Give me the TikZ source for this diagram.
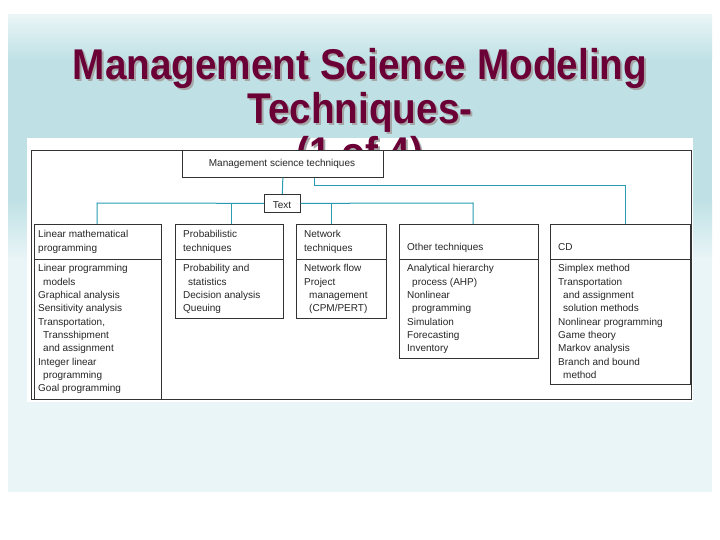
\documentclass[tikz,border=0pt]{standalone}
\usepackage{fontspec}
\usepackage{graphicx}
\setmainfont{Liberation Sans}
\definecolor{bgc}{HTML}{BFE1E5}
\definecolor{bgl}{HTML}{EAF5F7}
\definecolor{ttl}{HTML}{6A0035}
\definecolor{ln}{HTML}{2A9BB0}
\tikzset{
  bx/.style={draw=black!80,line width=0.7pt},
  con/.style={draw=ln,line width=1pt},
  txt/.style={anchor=north west,inner sep=0pt,align=left,font=\fontsize{10}{13.3}\selectfont,text=black!85},
  ttlt/.style={inner sep=0pt,font=\bfseries\fontsize{43}{48}\selectfont,text=ttl},
  shd/.style={inner sep=0pt,font=\bfseries\fontsize{43}{48}\selectfont,text=black!35}
}
\newcommand{\ind}{\hspace*{5pt}}
\begin{document}
\begin{tikzpicture}[x=1pt,y=-1pt]
\useasboundingbox (0,0) rectangle (720,540);
\fill[white] (0,0) rectangle (720,540);
\fill[bgl] (8,15) rectangle (712,492);
\shade[top color=bgl,bottom color=bgc] (8,15) rectangle (712,60);
\fill[bgc] (8,60) rectangle (712,200);
\shade[top color=bgc,bottom color=bgl] (8,200) rectangle (712,260);
\fill[white] (27,138) rectangle (693,402);
% title
\foreach \t/\y in {Management Science Modeling/80,Techniques-/124,(1 of 4)/168}{
  \node[shd,anchor=base] at (362,\y+2) {\scalebox{0.9}[1]{\t}};
  \node[ttlt,anchor=base] at (360,\y) {\scalebox{0.9}[1]{\t}};
}
\fill[white] (31,150) rectangle (690,400);
\draw[bx] (31,150) rectangle (691,399);
% boxes
\node[bx,minimum width=201pt,minimum height=27pt,inner sep=0pt,anchor=north west] (top) at (182,150) {};
\node[anchor=base,inner sep=0pt,font=\fontsize{10}{12}\selectfont,text=black!85] (topt) at (282,167) {Management science techniques};
\node[bx,minimum width=36pt,minimum height=18pt,inner sep=0pt,anchor=north west,fill=white] (tx) at (264,194) {};
\node[anchor=base,inner sep=0pt,font=\fontsize{10}{12}\selectfont,text=black!85] at (282,208) {Text};
% category boxes: header and body
\draw[bx] (34,224) rectangle (161,259); \draw[bx] (34,259) rectangle (161,399);
\draw[bx] (175,224) rectangle (283,259); \draw[bx] (175,259) rectangle (283,318);
\draw[bx] (296,224) rectangle (386,259); \draw[bx] (296,259) rectangle (386,318);
\draw[bx] (399,224) rectangle (538,259); \draw[bx] (399,259) rectangle (538,358);
\draw[bx] (550,224) rectangle (690,259); \draw[bx] (550,259) rectangle (690,384);
\coordinate (c1) at (97,224); \coordinate (c2) at (231,224); \coordinate (c3) at (331,224);
\coordinate (c4) at (473,224); \coordinate (c5) at (625,224);
% connectors
\draw[con] (top.south) -- (tx.north);
\draw[con] (c1) -- (97,203) -- (tx.west);
\draw[con] (tx.east) -- (473,203) -- (c4);
\draw[con] (231,203) -- (c2);
\draw[con] (331,203) -- (c3);
\draw[con] (top.south)++(32,0) -- ++(0,8) -| (c5);
% headers
\node[txt] at (38,230.5) {Linear mathematical\\programming};
\node[txt] at (183,230.5) {Probabilistic\\techniques};
\node[txt] at (304,230.5) {Network\\techniques};
\node[txt] at (407,243.5) {Other techniques};
\node[txt] at (558,243.5) {CD};
% bodies
\node[txt] at (38,264.5) {Linear programming\\\ind models\\Graphical analysis\\Sensitivity analysis\\Transportation,\\\ind Transshipment\\\ind and assignment\\Integer linear\\\ind programming\\Goal programming};
\node[txt] at (183,264.5) {Probability and\\\ind statistics\\Decision analysis\\Queuing};
\node[txt] at (304,264.5) {Network flow\\Project\\\ind management\\\ind (CPM/PERT)};
\node[txt] at (407,264.5) {Analytical hierarchy\\\ind process (AHP)\\Nonlinear\\\ind programming\\Simulation\\Forecasting\\Inventory};
\node[txt] at (558,264.5) {Simplex method\\Transportation\\\ind and assignment\\\ind solution methods\\Nonlinear programming\\Game theory\\Markov analysis\\Branch and bound\\\ind method};
\end{tikzpicture}
\end{document}
